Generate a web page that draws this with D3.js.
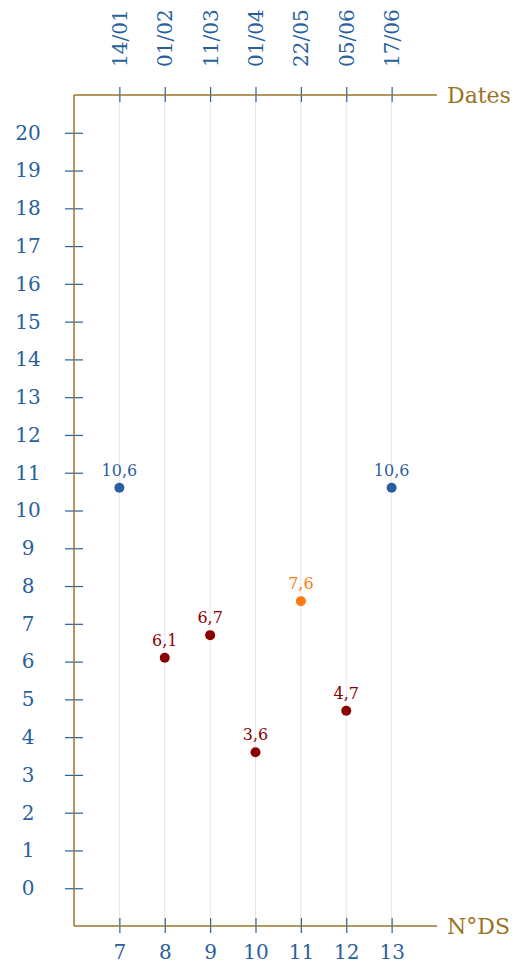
<!DOCTYPE html>
<html>
<head>
<meta charset="utf-8">
<script src="https://cdn.jsdelivr.net/npm/d3@7"></script>
<style>
  body { margin: 0; background: #fff; }
  text { font-family: "DejaVu Serif", serif; }
</style>
</head>
<body>
<div id="chart"></div>
<script>
const width = 520, height = 969;

// data
const dsNumbers = [7, 8, 9, 10, 11, 12, 13];
const dates = ["14/01", "01/02", "11/03", "01/04", "22/05", "05/06", "17/06"];
const grades = [10.6, 6.1, 6.7, 3.6, 7.6, 4.7, 10.6];
const gradeLabels = ["10,6", "6,1", "6,7", "3,6", "7,6", "4,7", "10,6"];
const pointColors = ["#2a5f9e", "#8b0000", "#8b0000", "#8b0000", "#ff7a12", "#8b0000", "#2a5f9e"];
const yTicks = d3.range(0, 21);

const axisColor = "#9a7426";
const tickColor = "#2a5f9e";

let svg = d3.select("#chart")
    .append("svg")
    .attr("width", width)
    .attr("height", height);

let x = d3.scaleLinear().domain([6, 14]).range([74, 437]);
let y = d3.scaleLinear().domain([-1, 21]).range([926, 95]);

// vertical grid lines
svg.append("g")
    .selectAll("line")
    .data(dsNumbers)
    .enter()
    .append("line")
    .attr("x1", d => x(d)).attr("x2", d => x(d))
    .attr("y1", y(21)).attr("y2", y(-1))
    .attr("stroke", "#e6e6e6")
    .attr("stroke-width", 1);

// bottom axis
let bottomAxis = svg.append("g")
    .attr("transform", `translate(0,${y(-1)})`)
    .call(d3.axisBottom(x).tickValues(dsNumbers).tickSize(0).tickPadding(19));
bottomAxis.select(".domain").remove();
bottomAxis.selectAll(".tick text")
    .attr("fill", tickColor)
    .style("font-size", "20px");
bottomAxis.selectAll(".tick").append("line")
    .attr("y1", -8).attr("y2", 7)
    .attr("stroke", tickColor).attr("stroke-width", 1.2);

// top axis
let topAxis = svg.append("g")
    .attr("transform", `translate(0,${y(21)})`)
    .call(d3.axisTop(x).tickValues(dsNumbers).tickFormat((d, i) => dates[i]).tickSize(0));
topAxis.select(".domain").remove();
topAxis.selectAll(".tick text")
    .attr("fill", tickColor)
    .style("font-size", "20px")
    .attr("text-anchor", "start")
    .attr("transform", "rotate(-90)")
    .attr("x", 28)
    .attr("y", 0)
    .attr("dy", "0.35em");
topAxis.selectAll(".tick").append("line")
    .attr("y1", -8).attr("y2", 7)
    .attr("stroke", tickColor).attr("stroke-width", 1.2);

// left axis
let leftAxis = svg.append("g")
    .attr("transform", `translate(${x(6)},0)`)
    .call(d3.axisLeft(y).tickValues(yTicks).tickSize(0));
leftAxis.select(".domain").remove();
leftAxis.selectAll(".tick text")
    .attr("fill", tickColor)
    .attr("text-anchor", "middle")
    .attr("x", -46)
    .style("font-size", "20px");
leftAxis.selectAll(".tick").append("line")
    .attr("x1", -9).attr("x2", 9)
    .attr("stroke", tickColor).attr("stroke-width", 1.2);

// axis lines
svg.append("line")
    .attr("x1", x(6)).attr("x2", x(6))
    .attr("y1", y(21)).attr("y2", y(-1))
    .attr("stroke", axisColor).attr("stroke-width", 1.5);
svg.append("line")
    .attr("x1", x(6)).attr("x2", x(14))
    .attr("y1", y(21)).attr("y2", y(21))
    .attr("stroke", axisColor).attr("stroke-width", 1.5);
svg.append("line")
    .attr("x1", x(6)).attr("x2", x(14))
    .attr("y1", y(-1)).attr("y2", y(-1))
    .attr("stroke", axisColor).attr("stroke-width", 1.5);

svg.append("text")
    .attr("x", x(14) + 10).attr("y", y(21))
    .attr("dy", "0.35em")
    .attr("fill", axisColor)
    .style("font-size", "22px")
    .text("Dates");
svg.append("text")
    .attr("x", x(14) + 10).attr("y", y(-1))
    .attr("dy", "0.35em")
    .attr("fill", axisColor)
    .style("font-size", "22px")
    .text("N°DS");

// points
svg.append("g")
    .selectAll("circle")
    .data(grades)
    .enter()
    .append("circle")
    .attr("cx", (d, i) => x(dsNumbers[i]))
    .attr("cy", d => y(d))
    .attr("r", 5)
    .attr("fill", (d, i) => pointColors[i]);

svg.append("g")
    .selectAll("text")
    .data(grades)
    .enter()
    .append("text")
    .attr("x", (d, i) => x(dsNumbers[i]))
    .attr("y", d => y(d) - 12)
    .attr("text-anchor", "middle")
    .attr("fill", (d, i) => pointColors[i])
    .style("font-size", "16px")
    .text((d, i) => gradeLabels[i]);
</script>
</body>
</html>
